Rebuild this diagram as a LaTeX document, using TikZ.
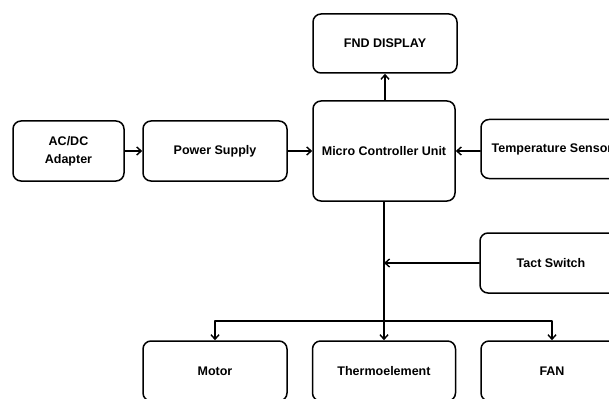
\documentclass[tikz,border=0pt]{standalone}
\usepackage{fontspec}
\setmainfont{Liberation Sans}
\usetikzlibrary{arrows.meta}

\begin{document}
\begin{tikzpicture}[x=1pt, y=-1pt, line cap=round, line join=round,
    block/.style={draw, line width=1.5pt, rounded corners=8pt, inner sep=0pt,
      minimum width=144pt, minimum height=60pt, align=center,
      font=\fontsize{12.5}{18}\selectfont\bfseries},
    link/.style={line width=1.5pt, -{Straight Barb[length=4.5pt, width=8pt, line width=1.4pt]}}]

  \clip (0,0) rectangle (609,398);

  \node[block, minimum width=111pt] (adapter) at (68.5,151) {AC/DC\\Adapter};
  \node[block] (power) at (215,151) {Power Supply};
  \node[block, minimum width=142pt, minimum height=100pt] (mcu) at (384,151) {Micro Controller Unit};
  \node[block, minimum height=59pt] (fnd) at (385,43.5) {FND DISPLAY};
  \node[block, minimum width=142pt, minimum height=59pt] (temp) at (552,149) {Temperature Sensor};
  \node[block, minimum width=142pt] (tact) at (551,263) {Tact Switch};

  \node[block] (motor) at (215,371) {Motor};
  \node[block, minimum width=143pt] (thermo) at (384,371) {Thermoelement};
  \node[block, minimum width=142pt] (fan) at (552,371) {FAN};

  \coordinate (split) at (384,321);

  \draw[link] (adapter) -- (power);
  \draw[link] (power) -- (mcu);
  \draw[link] (temp.west |- mcu) -- (mcu.east);
  \draw[link] (mcu.north -| fnd) -- (fnd.south);

  \draw[link] (mcu.south) -- (thermo.north);
  \draw[link] (tact.west) -- (tact.west -| mcu.south);
  \draw[link] (split) -| (motor.north);
  \draw[link] (split) -| (fan.north);

\end{tikzpicture}
\end{document}
